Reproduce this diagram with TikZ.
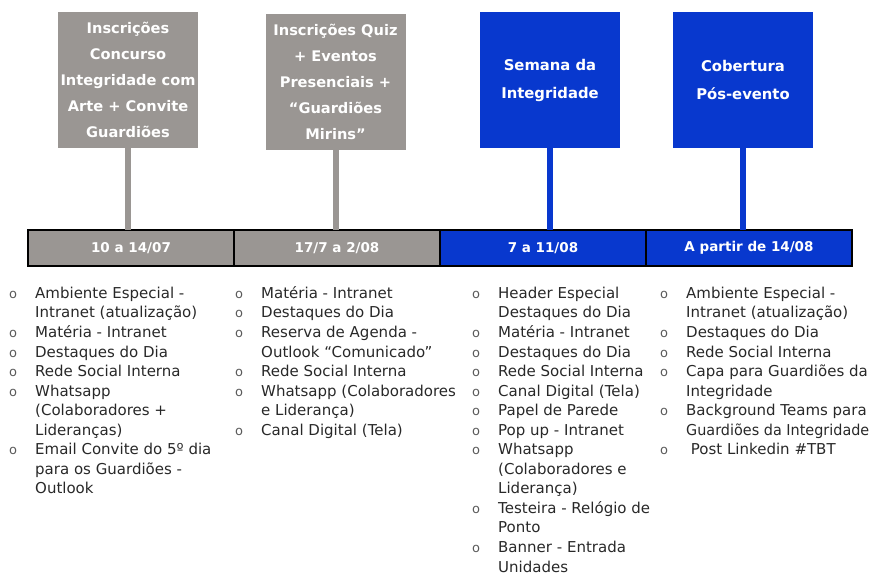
\documentclass[tikz,border=0pt]{standalone}
\usepackage{fontspec}
\setmainfont{DejaVu Sans}
\usetikzlibrary{positioning}
\definecolor{boxgray}{RGB}{154,150,147}
\definecolor{boxblue}{RGB}{8,56,206}
\definecolor{listtext}{RGB}{40,40,40}
\definecolor{bulgray}{RGB}{90,90,90}
\newcommand\bul{\makebox[27pt][l]{\hspace{1pt}\color{bulgray}\fontsize{13}{19.55}\selectfont o}}
\newcommand\listfont{\fontsize{15}{19.55}\selectfont}

\begin{document}
\begin{tikzpicture}[x=1pt,y=-1pt,
   phase/.style={minimum width=140pt,minimum height=136pt,inner sep=0pt,
     text=white,align=center,font=\bfseries\fontsize{14.6}{26}\selectfont},
   seg/.style={draw=black,line width=1.6pt,minimum width=206pt,minimum height=36pt,
     inner sep=0pt,outer sep=0pt,text=white,font=\bfseries\fontsize{13.5}{16}\selectfont},
   stem/.style={line width=6pt},
   items/.style={anchor=north west,inner sep=0pt,text=listtext,font=\listfont}]

\useasboundingbox (0,0) rectangle (870,574);

% phases
\node[phase,fill=boxgray] (p1) at (128,80) {Inscrições\\Concurso\\Integridade com\\Arte + Convite\\Guardiões};
\node[phase,fill=boxgray] (p2) at (335.5,81.5) {Inscrições Quiz\\+ Eventos\\Presenciais +\\“Guardiões\\Mirins”};
\node[phase,fill=boxblue,font=\bfseries\fontsize{14.8}{28}\selectfont] (p3) at (550,80) {Semana da\\Integridade};
\node[phase,fill=boxblue,font=\bfseries\fontsize{14.8}{28}\selectfont] (p4) at (743,80) {\raisebox{-4pt}{Cobertura}\\\raisebox{-4pt}{Pós-evento}};

% timeline
\node[seg,fill=boxgray] (t1) at (131,248) {10 a 14/07};
\node[seg,fill=boxgray,right=0pt of t1] (t2) {17/7 a 2/08};
\node[seg,fill=boxblue,right=0pt of t2] (t3) {7 a 11/08};
\node[seg,fill=boxblue,right=0pt of t3] (t4) {A partir de 14/08};

\draw[stem,boxgray] (p1.south) -- (p1.south |- t1.north);
\draw[stem,boxgray] (p2.south) -- (p2.south |- t2.north);
\draw[stem,boxblue] (p3.south) -- (p3.south |- t3.north);
\draw[stem,boxblue] (p4.south) -- (p4.south |- t4.north);

% channels
\node[items] (l1) at (8,284.5) {\begin{tabular}{@{}l@{}l@{}}
\bul & Ambiente Especial -\\
 & Intranet (atualização)\\
\bul & Matéria - Intranet\\
\bul & Destaques do Dia\\
\bul & Rede Social Interna\\
\bul & Whatsapp\\
 & (Colaboradores +\\
 & Lideranças)\\
\bul & Email Convite do 5º dia\\
 & para os Guardiões -\\
 & Outlook
\end{tabular}};
\node[items] (l2) at (234,284.5) {\begin{tabular}{@{}l@{}l@{}}
\bul & Matéria - Intranet\\
\bul & Destaques do Dia\\
\bul & Reserva de Agenda -\\
 & Outlook “Comunicado”\\
\bul & Rede Social Interna\\
\bul & Whatsapp (Colaboradores\\
 & e Liderança)\\
\bul & Canal Digital (Tela)
\end{tabular}};
\node[items] (l3) at (471,284.5) {\begin{tabular}{@{}l@{}l@{}}
\bul & Header Especial\\
 & Destaques do Dia\\
\bul & Matéria - Intranet\\
\bul & Destaques do Dia\\
\bul & Rede Social Interna\\
\bul & Canal Digital (Tela)\\
\bul & Papel de Parede\\
\bul & Pop up - Intranet\\
\bul & Whatsapp\\
 & (Colaboradores e\\
 & Liderança)\\
\bul & Testeira - Relógio de\\
 & Ponto\\
\bul & Banner - Entrada\\
 & Unidades
\end{tabular}};
\node[items] (l4) at (659,284.5) {\begin{tabular}{@{}l@{}l@{}}
\bul & Ambiente Especial -\\
 & Intranet (atualização)\\
\bul & Destaques do Dia\\
\bul & Rede Social Interna\\
\bul & Capa para Guardiões da\\
 & Integridade\\
\bul & Background Teams para\\
 & \scalebox{0.96}[1]{Guardiões da Integridade}\\
\bul & \ Post Linkedin \#TBT
\end{tabular}};
\end{tikzpicture}
\end{document}
